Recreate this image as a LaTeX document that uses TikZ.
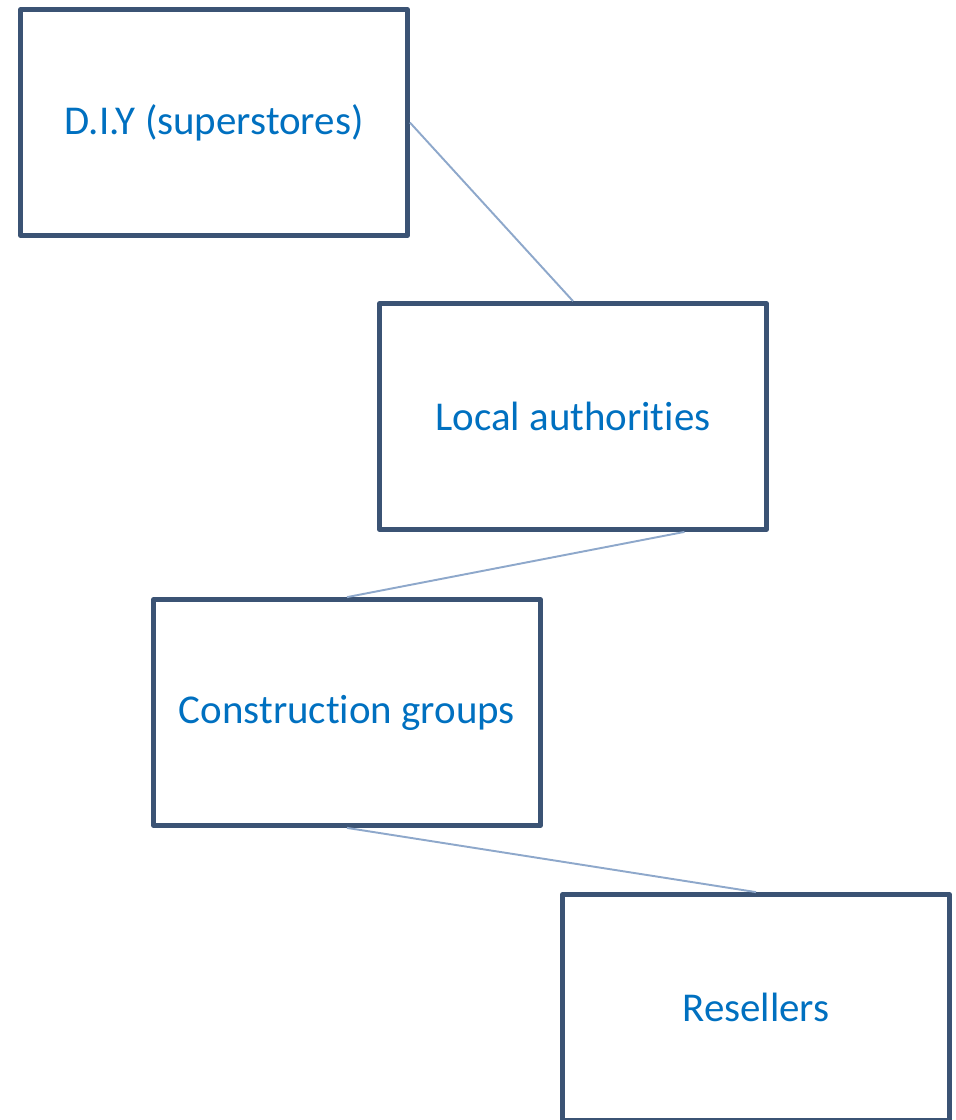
\documentclass[tikz,border=0pt]{standalone}
\usepackage{fontspec}
\setmainfont{Carlito}[Ligatures={NoCommon}]
\usepackage{tikz}
\usetikzlibrary{positioning}
\definecolor{boxblue}{HTML}{3B5374}
\definecolor{linkblue}{HTML}{8EA8CB}
\definecolor{textblue}{HTML}{0070C0}

\begin{document}
\begin{tikzpicture}
[x=0.2mm,y=-0.2mm,
box/.style={rectangle,draw=boxblue,line width=3pt,line join=round,minimum width=7.73cm,minimum height=4.51cm,text=textblue,font=\fontsize{23.3}{28}\selectfont},
link/.style={draw=linkblue,line width=1.1pt}]
\useasboundingbox (0,0) rectangle (955,1120);
\node[box] (diy) at (214,122.5) {D.I.Y (superstores)};
\node[box] (local) at (573,416.5) {Local authorities};
\node[box] (constr) at (347,712.5) {Construction groups};
\node[box] (resell) at (756,1007.5) {Resellers};

\draw [link] (diy.east) -- (local.north);
\draw [link] (local.-46) -- (constr.north);
\draw [link] (constr.south) -- (resell.north);
\end{tikzpicture}
\end{document}
